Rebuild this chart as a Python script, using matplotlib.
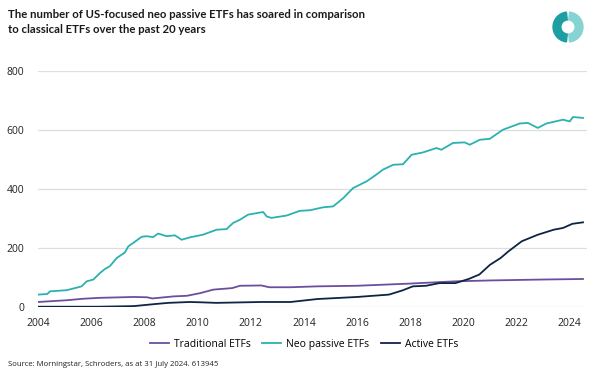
import numpy as np
import matplotlib.pyplot as plt
from matplotlib.patches import Wedge

# values (decimal years, number of ETFs)
neo_years = [2004.0, 2004.35, 2004.45, 2005.08, 2005.3, 2005.64, 2005.83, 2006.08, 2006.33,
             2006.52, 2006.7, 2006.96, 2007.27, 2007.4, 2007.58, 2007.9, 2008.08, 2008.33,
             2008.52, 2008.84, 2009.15, 2009.4, 2009.71, 2010.2, 2010.72, 2011.09, 2011.34,
             2011.6, 2011.9, 2012.47, 2012.6, 2012.78, 2013.35, 2013.85, 2014.23, 2014.73,
             2015.1, 2015.48, 2015.85, 2016.36, 2016.73, 2016.98, 2017.36, 2017.73, 2018.05,
             2018.48, 2018.99, 2019.17, 2019.61, 2020.05, 2020.24, 2020.62, 2020.99, 2021.49,
             2022.12, 2022.43, 2022.8, 2023.12, 2023.75, 2024.0, 2024.12, 2024.5]
neo_passive = [42, 44, 53, 57, 62, 70, 87, 93, 115, 129, 138, 166, 185, 206, 217, 238, 240, 237,
               249, 240, 243, 228, 236, 245, 262, 264, 285, 296, 313, 322, 307, 302, 310, 326,
               328, 338, 341, 369, 403, 426, 449, 466, 482, 484, 516, 524, 539, 533, 556, 558,
               550, 567, 570, 601, 622, 624, 607, 622, 635, 629, 644, 641]

trad_years = [2004.0, 2005.1, 2005.7, 2006.3, 2007.6, 2008.1, 2008.3, 2009.1, 2009.6, 2010.1,
              2010.6, 2011.3, 2011.6, 2012.4, 2012.7, 2013.5, 2014.5, 2016.0, 2017.9, 2019.7,
              2021.0, 2022.9, 2024.5]
traditional = [17, 23, 28, 31, 34, 33, 29, 36, 38, 47, 59, 64, 72, 73, 67, 67, 70, 72, 79, 87,
               90, 93, 95]

act_years = [2004.0, 2006.3, 2007.6, 2008.4, 2008.9, 2009.7, 2010.1, 2010.7, 2012.4, 2013.5,
             2014.5, 2016.0, 2017.2, 2017.7, 2018.1, 2018.6, 2019.1, 2019.7, 2020.2, 2020.6,
             2021.0, 2021.4, 2021.7, 2022.2, 2022.8, 2023.4, 2023.75, 2024.1, 2024.5]
active = [1, 1, 3, 10, 14, 17, 16, 14, 17, 17, 27, 34, 42, 56, 70, 72, 81, 81, 95, 110, 143,
          166, 189, 223, 245, 262, 268, 282, 287]

series_names = ['Traditional ETFs', 'Neo passive ETFs', 'Active ETFs']
x_ticks = list(range(2004, 2025, 2))
y_ticks = [0, 200, 400, 600, 800]

purple = '#6a4f9e'
teal = '#2bb1b0'
navy = '#0e2443'

plt.rcParams['font.family'] = ['Open Sans', 'DejaVu Sans']

fig = plt.figure(figsize=(5.93, 3.72), dpi=100)
ax = fig.add_axes([38 / 593, 1 - 307 / 372, 549 / 593, 236 / 372])

ax.plot(trad_years, traditional, color=purple, lw=1.3, label=series_names[0])
ax.plot(neo_years, neo_passive, color=teal, lw=1.3, label=series_names[1])
ax.plot(act_years, active, color=navy, lw=1.3, label=series_names[2])

ax.set_xlim(2004, 2024.65)
ax.set_ylim(0, 800)
ax.set_xticks(x_ticks)
ax.set_yticks(y_ticks)
ax.tick_params(length=0, labelsize=7.5, colors='#222222')
ax.tick_params(axis='y', pad=10)
ax.tick_params(axis='x', pad=8)
ax.grid(axis='y', color='#dedede', lw=0.9)
ax.set_axisbelow(True)
for s in ax.spines.values():
    s.set_visible(False)

ax.legend(loc='upper center', bbox_to_anchor=(0.485, -0.095), ncol=3, frameon=False,
          fontsize=7.5, handlelength=1.8, columnspacing=1.1, handletextpad=0.5)

# title
fig.text(8 / 593, 1 - 9 / 372, 'The number of US-focused neo passive ETFs has soared in comparison\n'
         'to classical ETFs over the past 20 years', ha='left', va='top',
         fontsize=8.2, fontweight='bold', color='#1a1a1a', linespacing=1.4,
         family=['Lato', 'DejaVu Sans'])

fig.text(8 / 593, 1 - 365 / 372, 'Source: Morningstar, Schroders, as at 31 July 2024. 613945',
         ha='left', va='center', fontsize=5.6, color='#222222')

# logo ring
lax = fig.add_axes([551 / 593, 1 - 44 / 372, 34 / 593, 34 / 372])
lax.set_xlim(-1, 1)
lax.set_ylim(-1, 1)
lax.set_aspect('equal')
lax.axis('off')
lax.add_patch(Wedge((0, 0), 0.88, 96, 264, width=0.46, color='#1c9ea3'))
lax.add_patch(Wedge((0, 0), 0.88, -84, 84, width=0.46, color='#86d3d3'))

fig.savefig('out.png', dpi=100)
